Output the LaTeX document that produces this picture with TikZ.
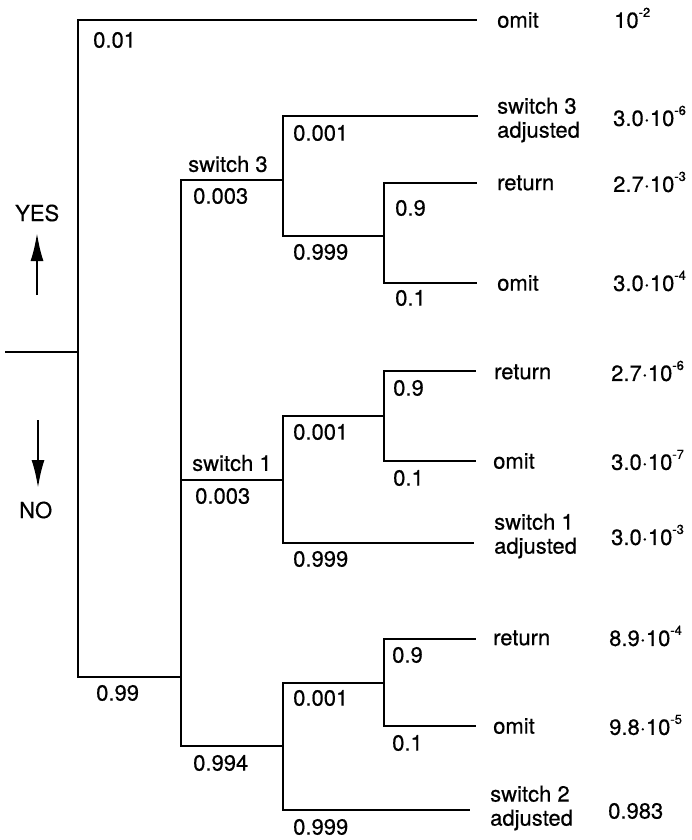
\documentclass[tikz,border=0pt]{standalone}
\usepackage{fontspec}
\setmainfont{TeX Gyre Heros}[FakeBold=0.5]
\usetikzlibrary{arrows.meta}
\newcommand{\supm}[1]{\raisebox{0.5em}{\fontsize{13}{13}\selectfont -#1}}
\newcommand{\pw}[2]{#1\textperiodcentered 10\supm{#2}}
\begin{document}
\begin{tikzpicture}[x=1pt,y=-1pt,
  br/.style={line width=2.1pt,line join=miter},
  lab/.style={anchor=west,inner sep=0pt,font=\fontsize{22}{24}\selectfont},
  outc/.style={lab,align=left,font=\fontsize{22}{24}\selectfont},
  yn/.style={-{Latex[length=28pt,width=13pt]},line width=2.2pt}]
\useasboundingbox (0,0) rectangle (692,840);
% branch points
\coordinate (r0) at (5,352);
\coordinate (A) at (78,352);
\coordinate (B) at (181,677);
\coordinate (S3) at (283,180);
\coordinate (S3n) at (384,236);
\coordinate (S1) at (283,480);
\coordinate (S1y) at (384,416);
\coordinate (S2) at (283,746);
\coordinate (S2y) at (384,683);
% leaf ends
\coordinate (e0) at (477,20);
\coordinate (e1) at (478,116);
\coordinate (e2) at (477,183);
\coordinate (e3) at (477,283);
\coordinate (e4) at (476,371);
\coordinate (e5) at (476,461);
\coordinate (e6) at (474,543);
\coordinate (e7) at (476,639);
\coordinate (e8) at (476,726);
\coordinate (e9) at (470,810);
% tree
\draw[br] (r0) -- (A);
\draw[br] (A) |- (e0);
\draw[br] (A) |- (B);
\draw[br] (B) |- (S3);
\draw[br] (B) |- (S1);
\draw[br] (B) |- (S2);
\draw[br] (S3) |- (e1);
\draw[br] (S3) |- (S3n);
\draw[br] (S3n) |- (e2);
\draw[br] (S3n) |- (e3);
\draw[br] (S1) |- (S1y);
\draw[br] (S1) |- (e6);
\draw[br] (S1y) |- (e4);
\draw[br] (S1y) |- (e5);
\draw[br] (S2) |- (S2y);
\draw[br] (S2) |- (e9);
\draw[br] (S2y) |- (e7);
\draw[br] (S2y) |- (e8);
% branch labels
\node[lab] (p01) at (93,40) {0.01};
\node[lab] (sw3) at (188,164) {switch 3};
\node[lab] (p003a) at (193,196) {0.003};
\node[lab] (p001a) at (293,133) {0.001};
\node[lab] (p999a) at (293,252) {0.999};
\node[lab] (p9a) at (395,208) {0.9};
\node[lab] (p1a) at (395,298) {0.1};
\node[lab] (p001b) at (293,432) {0.001};
\node[lab] (p9b) at (393,388) {0.9};
\node[lab] (p1b) at (393,478) {0.1};
\node[lab] (sw1) at (192,463) {switch 1};
\node[lab] (p003b) at (195,496) {0.003};
\node[lab] (p999b) at (293,559) {0.999};
\node[lab] (p99) at (96,693) {0.99};
\node[lab] (p994) at (193,763) {0.994};
\node[lab] (p001c) at (293,698) {0.001};
\node[lab] (p9c) at (392,655) {0.9};
\node[lab] (p1c) at (392,743) {0.1};
\node[lab] (p999c) at (293,827) {0.999};
% outcomes
\node[outc] (o1) at (497,20) {omit};
\node[outc] (o2) at (497,120) {switch 3\\adjusted};
\node[outc] (o3) at (497,183) {return};
\node[outc] (o4) at (497,283) {omit};
\node[outc] (o5) at (494,372) {return};
\node[outc] (o6) at (493,461) {omit};
\node[outc] (o7) at (494,536) {switch 1\\adjusted};
\node[outc] (o8) at (493,638) {return};
\node[outc] (o9) at (493,726) {omit};
\node[outc] (o10) at (490,808) {switch 2\\adjusted};
% probabilities
\node[lab] (q1) at (614,18) {10\supm{2}};
\node[lab] (q2) at (613,116) {\pw{3.0}{6}};
\node[lab] (q3) at (613,182) {\pw{2.7}{3}};
\node[lab] (q4) at (613,281) {\pw{3.0}{4}};
\node[lab] (q5) at (611,371) {\pw{2.7}{6}};
\node[lab] (q6) at (611,460) {\pw{3.0}{7}};
\node[lab] (q7) at (611,535) {\pw{3.0}{3}};
\node[lab] (q8) at (609,636) {\pw{8.9}{4}};
\node[lab] (q9) at (609,725) {\pw{9.8}{5}};
\node[lab] (q10) at (608,811) {0.983};
% YES / NO
\node[lab] (yes) at (15,213) {YES};
\node[lab] (no) at (19,510) {NO};
\coordinate (ya) at (37,295);
\coordinate (yb) at (37,233);
\coordinate (na) at (38,420);
\coordinate (nb) at (38,488);
\draw[yn] (ya) -- (yb);
\draw[yn] (na) -- (nb);
\end{tikzpicture}
\end{document}
